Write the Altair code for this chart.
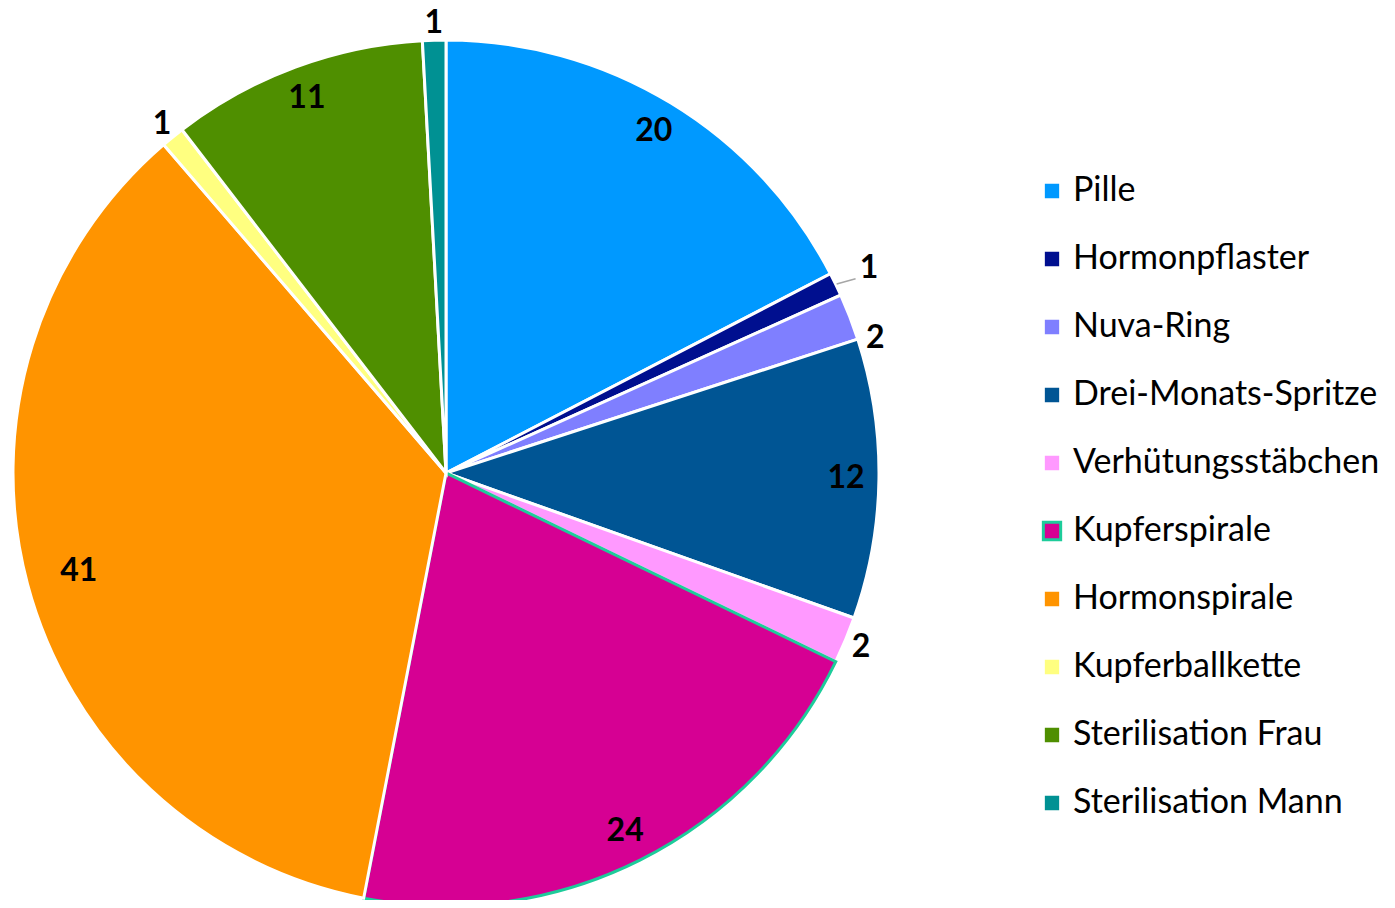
import altair as alt
import pandas as pd

categories = ["Pille", "Hormonpflaster", "Nuva-Ring", "Drei-Monats-Spritze",
              "Verhütungsstäbchen", "Kupferspirale", "Hormonspirale",
              "Kupferballkette", "Sterilisation Frau", "Sterilisation Mann"]
values = [20, 1, 2, 12, 2, 24, 41, 1, 11, 1]
colors = ["#0099FF", "#000F8F", "#7F7FFF", "#005594", "#FF99FF",
          "#D60093", "#FF9400", "#FFFF80", "#4F8F00", "#009193"]
strokes = ["white", "white", "white", "white", "white",
           "#1DCC9A", "white", "white", "white", "white"]

df = pd.DataFrame({"Kategorie": categories, "Wert": values,
                   "idx": list(range(len(categories)))})

CX, CY, R = 438, 465, 433

arcs = alt.Chart(df).mark_arc(outerRadius=R, strokeWidth=3, strokeJoin="miter").encode(
    theta=alt.Theta("Wert:Q", stack=True),
    order=alt.Order("idx:Q", sort="ascending"),
    x=alt.value(CX), y=alt.value(CY),
    fill=alt.Fill("Kategorie:N", scale=alt.Scale(domain=categories, range=colors),
                  sort=categories,
                  legend=alt.Legend(title=None, orient="none", legendX=1027, legendY=166,
                                    symbolType="square", symbolSize=300,
                                    symbolStrokeWidth=3,
                                    labelFont="Lato", labelFontSize=34,
                                    labelColor="#000000", labelOffset=4,
                                    rowPadding=34, labelLimit=400)),
    stroke=alt.Stroke("Kategorie:N", scale=alt.Scale(domain=categories, range=strokes),
                      sort=categories, legend=None),
)

# label placement rules (Excel-like collision avoidance next to tiny slices)
lead_cat = "Hormonpflaster"
nudge_cat = "Nuva-Ring"

pos = alt.Chart(df).transform_joinaggregate(
    total="sum(Wert)"
).transform_window(
    cum="sum(Wert)", sort=[alt.SortField("idx", order="ascending")],
    frame=[None, 0]
).transform_calculate(
    ang=f"(datum.cum - datum.Wert / 2) / datum.total * 2 * PI + (datum.Kategorie == '{nudge_cat}' ? 0.065 : 0)",
    lr=f"datum.Kategorie == '{lead_cat}' ? 470 : (datum.Wert <= 2 ? 450 : (datum.Wert > 30 ? 380 : 400))",
).transform_calculate(
    px=f"{CX} + datum.lr * sin(datum.ang)",
    py=f"{CY} - datum.lr * cos(datum.ang)",
    lx1=f"{CX} + {R + 1} * sin(datum.ang)",
    ly1=f"{CY} - {R + 1} * cos(datum.ang)",
    lx2=f"{CX} + {R + 22} * sin(datum.ang)",
    ly2=f"{CY} - {R + 22} * cos(datum.ang) + 4",
)

labels = pos.mark_text(
    font="Lato", fontSize=32, fontWeight="bold",
    color="black", align="center", baseline="middle"
).encode(
    x=alt.X("px:Q", scale=None, axis=None),
    y=alt.Y("py:Q", scale=None, axis=None),
    text="Wert:Q",
)

leader = pos.transform_filter(f"datum.Kategorie == '{lead_cat}'").mark_rule(
    color="#A6A6A6", strokeWidth=1.5
).encode(
    x=alt.X("lx1:Q", scale=None, axis=None),
    y=alt.Y("ly1:Q", scale=None, axis=None),
    x2="lx2:Q", y2="ly2:Q",
)

chart = alt.layer(arcs, leader, labels).properties(
    width=1379, height=892, padding=0, autosize="none"
).configure_view(stroke=None)

chart.save("out.html", embed_options={"renderer": "svg", "actions": False})
